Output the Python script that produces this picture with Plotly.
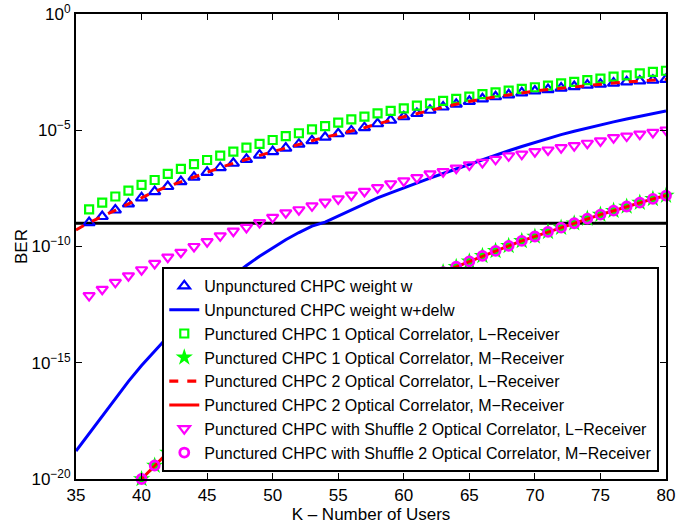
import plotly.graph_objects as go

# ---------------- data (BER values, as log10 exponents) ----------------
K_line = list(range(35, 81))          # K for continuous curves
K_mark = list(range(36, 81))          # K for marker series
K_m = list(range(40, 81))             # K for M-receiver series

unp_w_log = [-8.97, -8.71, -8.43, -8.17, -7.91, -7.64, -7.42, -7.21, -7.02, -6.81,
             -6.61, -6.42, -6.25, -6.07, -5.92, -5.77, -5.60, -5.45, -5.30, -5.15,
             -5.03, -4.89, -4.72, -4.57, -4.42, -4.28, -4.14, -4.00, -3.88, -3.76,
             -3.65, -3.56, -3.48, -3.39, -3.31, -3.25, -3.19, -3.12, -3.06, -3.02,
             -2.97, -2.92, -2.88, -2.85, -2.81]

unp_wdelw_log = [-18.80, -18.05, -17.30, -16.55, -15.80, -15.12, -14.48, -13.88, -13.30, -12.73,
                 -12.20, -11.71, -11.25, -10.82, -10.42, -10.05, -9.71, -9.40, -9.12, -8.95,
                 -8.69, -8.43, -8.17, -7.91, -7.69, -7.47, -7.26, -7.06, -6.86, -6.66,
                 -6.46, -6.26, -6.07, -5.88, -5.70, -5.52, -5.35, -5.19, -5.04, -4.90,
                 -4.77, -4.64, -4.52, -4.40, -4.28, -4.17]

p1_L_log = [-8.40, -8.11, -7.85, -7.60, -7.35, -7.14, -6.88, -6.66, -6.46, -6.28,
            -6.09, -5.92, -5.75, -5.59, -5.42, -5.25, -5.13, -4.96, -4.82, -4.67,
            -4.53, -4.41, -4.27, -4.17, -4.06, -3.94, -3.84, -3.74, -3.65, -3.55,
            -3.45, -3.37, -3.30, -3.22, -3.15, -3.08, -2.98, -2.92, -2.84, -2.78,
            -2.69, -2.64, -2.55, -2.49, -2.44]

p2_L_log = [-9.29] + unp_w_log        # dashed red curve, K = 35..80

m_recv_log = [-20.00, -19.42, -18.86, -18.32, -17.80, -17.30, -16.82, -16.37, -15.93, -15.50,
              -15.10, -14.71, -14.34, -13.98, -13.64, -13.31, -13.00, -12.70, -12.44, -12.15,
              -11.88, -11.63, -11.34, -11.10, -10.87, -10.64, -10.40, -10.19, -9.97, -9.76,
              -9.57, -9.37, -9.19, -9.00, -8.80, -8.63, -8.46, -8.28, -8.11, -7.95, -7.81]

shuf_L_log = [-12.11, -11.84, -11.54, -11.26, -11.00, -10.73, -10.46, -10.25, -10.00, -9.79,
              -9.54, -9.34, -9.18, -8.97, -8.75, -8.55, -8.42, -8.25, -8.09, -7.95,
              -7.79, -7.63, -7.47, -7.30, -7.18, -7.04, -6.88, -6.78, -6.63, -6.49,
              -6.38, -6.25, -6.10, -6.03, -5.92, -5.85, -5.75, -5.66, -5.56, -5.46,
              -5.32, -5.25, -5.17, -5.09, -4.99]

threshold_K = [35, 80]
threshold_ber = [1e-9, 1e-9]

y_tickvals = [1e-20, 1e-15, 1e-10, 1e-5, 1e0]
y_ticktext = ["10<sup>\u221220</sup>", "10<sup>\u221215</sup>", "10<sup>\u221210</sup>",
              "10<sup>\u22125</sup>", "10<sup>0</sup>"]
x_tickvals = [35, 40, 45, 50, 55, 60, 65, 70, 75, 80]

names = ["Unpunctured CHPC weight w",
         "Unpunctured CHPC weight w+delw",
         "Punctured CHPC 1 Optical Correlator, L\u2212Receiver",
         "Punctured CHPC 1 Optical Correlator, M\u2212Receiver",
         "Punctured CHPC 2 Optical Correlator, L\u2212Receiver",
         "Punctured CHPC 2 Optical Correlator, M\u2212Receiver",
         "Punctured CHPC with Shuffle 2 Optical Correlator, L\u2212Receiver",
         "Punctured CHPC with Shuffle 2 Optical Correlator, M\u2212Receiver"]


def tb(vals):
    return [10 ** v for v in vals]


BLUE = "#0000ff"
GREEN = "#00ff00"
RED = "#ff0000"
MAG = "#ff00ff"

fig = go.Figure()

fig.add_trace(go.Scatter(x=threshold_K, y=threshold_ber, mode="lines",
                         line=dict(color="black", width=3), showlegend=False))

fig.add_trace(go.Scatter(x=K_mark, y=tb(unp_w_log), mode="markers", name=names[0],
                         marker=dict(symbol="triangle-up-open", size=10, color=BLUE,
                                     line=dict(width=2.2, color=BLUE))))
fig.add_trace(go.Scatter(x=K_line, y=tb(unp_wdelw_log), mode="lines", name=names[1],
                         line=dict(color=BLUE, width=3)))
fig.add_trace(go.Scatter(x=K_mark, y=tb(p1_L_log), mode="markers", name=names[2],
                         marker=dict(symbol="square-open", size=8, color=GREEN,
                                     line=dict(width=2.2, color=GREEN))))
fig.add_trace(go.Scatter(x=K_m, y=tb(m_recv_log), mode="markers", name=names[3],
                         cliponaxis=False,
                         marker=dict(symbol="star", size=13, color=GREEN,
                                     line=dict(width=0))))
fig.add_trace(go.Scatter(x=K_line, y=tb(p2_L_log), mode="lines", name=names[4],
                         line=dict(color=RED, width=3, dash="dash")))
fig.add_trace(go.Scatter(x=K_m, y=tb(m_recv_log), mode="lines", name=names[5],
                         line=dict(color=RED, width=3)))
fig.add_trace(go.Scatter(x=K_mark, y=tb(shuf_L_log), mode="markers", name=names[6],
                         marker=dict(symbol="triangle-down-open", size=10, color=MAG,
                                     line=dict(width=2.2, color=MAG))))
fig.add_trace(go.Scatter(x=K_m, y=tb(m_recv_log), mode="markers", name=names[7],
                         cliponaxis=False,
                         marker=dict(symbol="circle-open", size=9, color=MAG,
                                     line=dict(width=2.8, color=MAG))))

FONT = "Liberation Sans, Arial, sans-serif"

fig.update_layout(
    width=699, height=524,
    paper_bgcolor="white", plot_bgcolor="white",
    margin=dict(l=76, r=33, t=14, b=45),
    font=dict(family=FONT, size=17, color="black"),
    showlegend=True,
    legend=dict(x=0.9886, y=0.015, xanchor="right", yanchor="bottom",
                bgcolor="white", bordercolor="black", borderwidth=2,
                font=dict(family=FONT, size=16, color="black"),
                tracegroupgap=0),
    xaxis=dict(range=[35, 80], tickvals=x_tickvals, ticks="inside", ticklen=6,
               tickwidth=1, tickcolor="black", showline=True, linecolor="black",
               linewidth=2, mirror="ticks", showgrid=False, zeroline=False,
               automargin=False, tickfont=dict(size=17),
               title=dict(text="K \u2013 Number of Users", font=dict(size=17), standoff=0)),
    yaxis=dict(type="log", range=[-20, 0], tickvals=y_tickvals, ticktext=y_ticktext,
               ticks="inside", ticklen=6, tickwidth=1, tickcolor="black",
               showline=True, linecolor="black", linewidth=2, mirror="ticks",
               showgrid=False, zeroline=False, automargin=False, tickfont=dict(size=17),
               title=dict(text="BER", font=dict(size=17), standoff=0)),
)

fig.write_html("out.html",
               config={"displayModeBar": False},
               post_script="document.body.style.margin='0px';document.body.style.padding='0px';")
